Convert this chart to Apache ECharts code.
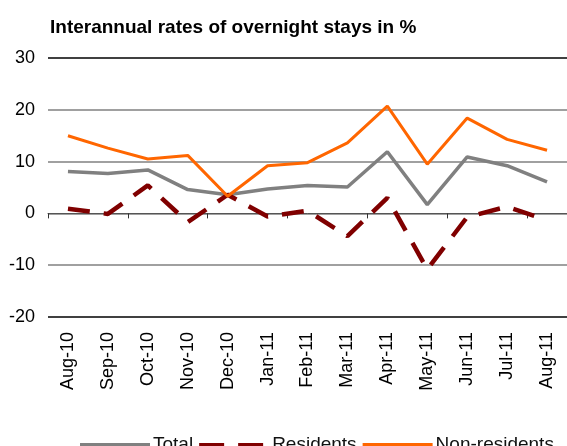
<!DOCTYPE html>
<html>
<head>
<meta charset="utf-8">
<script src="https://cdn.jsdelivr.net/npm/echarts@6/dist/echarts.min.js"></script>
<style>
html,body{margin:0;padding:0;background:#fff;}
#chart{width:567px;height:446px;}
</style>
</head>
<body>
<div id="chart"></div>
<script>
var categories = ['Aug-10','Sep-10','Oct-10','Nov-10','Dec-10','Jan-11','Feb-11','Mar-11','Apr-11','May-11','Jun-11','Jul-11','Aug-11'];
var totalValues = [8.1, 7.7, 8.4, 4.6, 3.6, 4.7, 5.4, 5.1, 11.9, 1.7, 10.9, 9.2, 6.1];
var residentsValues = [0.9, -0.1, 5.4, -1.7, 3.6, -0.6, 0.5, -4.4, 3.0, -10.8, -0.7, 1.3, -1.3];
var nonResidentsValues = [15.0, 12.6, 10.5, 11.2, 3.3, 9.2, 9.8, 13.6, 20.7, 9.5, 18.4, 14.3, 12.2];
var yTicks = [-20, -10, 0, 10, 20, 30];
var titleText = 'Interannual rates of overnight stays in %';
var seriesNames = ['Total', 'Residents', 'Non-residents'];

var FONT = '"Liberation Sans", Arial, sans-serif';
var chart = echarts.init(document.getElementById('chart'), null, {renderer: 'canvas'});
chart.setOption({
  animation: false,
  backgroundColor: '#fff',
  title: {
    text: titleText,
    left: 45, top: 13,
    textStyle: {fontFamily: FONT, fontSize: 19, fontWeight: 'bold', color: '#000'}
  },
  legend: {
    data: [
      {name: seriesNames[0], icon: 'rect', itemStyle: {color: '#808080'}},
      {name: seriesNames[1], icon: 'path://M0,0H25V4H0Z M39,0H64V4H39Z M69.9,0H70V0.01H69.9Z', itemStyle: {color: '#800000'}},
      {name: seriesNames[2], icon: 'rect', itemStyle: {color: '#FF6600'}}
    ],
    left: 75, top: 428,
    itemWidth: 70, itemHeight: 4, itemGap: 6,
    textStyle: {fontFamily: FONT, fontSize: 19, color: '#111', padding: [0,0,0,-2], lineHeight: 24}
  },
  grid: {left: 48, right: 0, top: 58, bottom: 129, containLabel: false},
  xAxis: [
    {
      type: 'category', data: categories, boundaryGap: true,
      axisLine: {onZero: true, lineStyle: {color: '#555', width: 1}},
      axisTick: {show: true, length: 5, alignWithLabel: false, lineStyle: {color: '#333'}},
      axisLabel: {show: false},
      splitLine: {show: false}
    },
    {
      type: 'category', data: categories, boundaryGap: true, position: 'bottom',
      axisLine: {show: false, onZero: false},
      axisTick: {show: false},
      axisLabel: {show: true, rotate: 90, margin: 15, fontFamily: FONT, fontSize: 18, color: '#000', interval: 0},
      splitLine: {show: false}
    }
  ],
  yAxis: {
    type: 'value', min: yTicks[0], max: yTicks[yTicks.length-1], interval: 10,
    axisLine: {show: false}, axisTick: {show: false},
    axisLabel: {margin: 13, fontFamily: FONT, fontSize: 18, color: '#000'},
    splitLine: {show: true, lineStyle: {color: ['#000', '#808080', '#808080', '#808080', '#808080', '#000'], width: 1.5}}
  },
  series: [
    {
      name: seriesNames[0], type: 'line', data: totalValues, xAxisIndex: 0,
      symbol: 'none', smooth: false,
      lineStyle: {color: '#808080', width: 3.5},
      itemStyle: {color: '#808080'}
    },
    {
      name: seriesNames[1], type: 'line', data: residentsValues, xAxisIndex: 0,
      symbol: 'none', smooth: false,
      lineStyle: {color: '#800000', width: 4.5, type: [22, 14]},
      itemStyle: {color: '#800000'}
    },
    {
      name: seriesNames[2], type: 'line', data: nonResidentsValues, xAxisIndex: 0,
      symbol: 'none', smooth: false,
      lineStyle: {color: '#FF6600', width: 3},
      itemStyle: {color: '#FF6600'}
    }
  ]
});
</script>
</body>
</html>
